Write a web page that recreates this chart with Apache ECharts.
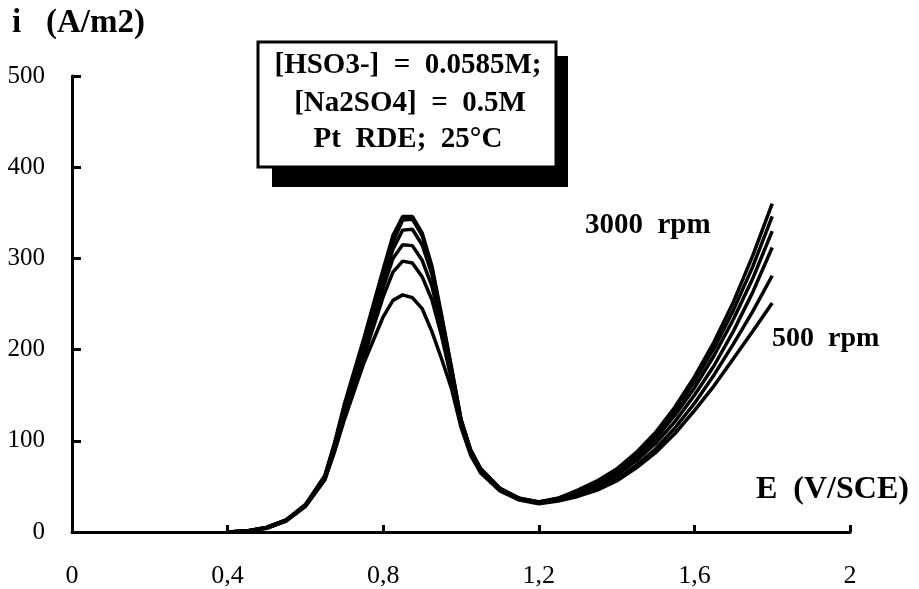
<!DOCTYPE html>
<html>
<head>
<meta charset="utf-8">
<script src="https://cdn.jsdelivr.net/npm/echarts@6/dist/echarts.min.js"></script>
<style>
html,body{margin:0;padding:0;background:#fff;}
#chart{width:919px;height:589px;}
</style>
</head>
<body>
<div id="chart"></div>
<script>
// Potential E (V/SCE)
var potentials = [0.40,0.45,0.50,0.55,0.60,0.65,0.675,0.70,0.75,0.80,0.825,0.85,0.875,0.90,0.925,0.95,0.975,1.00,1.025,1.05,1.10,1.15,1.20,1.25,1.30,1.35,1.40,1.45,1.50,1.55,1.60,1.65,1.70,1.75,1.80];
// Current density i (A/m2) per rotation speed
var rpm3000 = [0,1,5,13,30,62,98,140,212,288,325,346,346,328,292,238,182,124,90,70,48,37,33,37,46,56,69,87,109,137,170,208,252,303,360];
var rpm2500 = [0,1,5,13,30,61,96,137,208,283,318,342,343,325,290,236,180,123,89,69,48,37,33,37,45,55,67,85,106,133,165,201,243,291,346];
var rpm2000 = [0,1,5,13,29,60,94,134,203,276,310,331,332,315,283,232,178,122,88,68,47,36,33,36,44,53,65,82,102,128,158,193,233,278,330];
var rpm1500 = [0,1,5,13,29,59,92,131,198,268,300,315,314,298,270,225,174,120,87,67,46,36,32,35,42,51,62,78,97,121,150,182,220,263,312];
var rpm1000 = [0,1,4,12,28,58,90,127,192,258,285,297,295,280,255,215,168,118,86,66,46,36,32,35,41,49,58,73,91,114,141,172,206,242,281];
var rpm500  = [0,1,4,12,28,57,88,123,185,236,254,260,257,245,220,190,158,115,84,65,45,35,31,34,39,46,56,70,87,108,133,160,190,220,251];
var seriesNames = ['500 rpm','1000 rpm','1500 rpm','2000 rpm','2500 rpm','3000 rpm'];
var seriesValues = [rpm500, rpm1000, rpm1500, rpm2000, rpm2500, rpm3000];
var xTicks = [0, 0.4, 0.8, 1.2, 1.6, 2];
var yTicks = [0, 100, 200, 300, 400, 500];
var boxLines = ['[HSO3-]  =  0.0585M;', '[Na2SO4]  =  0.5M', 'Pt  RDE;  25°C'];

var chart = echarts.init(document.getElementById('chart'), null, {renderer: 'canvas'});
var serif = '"Liberation Serif", "DejaVu Serif", serif';

function pairs(vals) {
  return potentials.map(function (e, i) { return [e, vals[i]]; });
}

var series = seriesValues.map(function (vals, k) {
  return {
    name: seriesNames[k],
    type: 'line',
    data: pairs(vals),
    showSymbol: false,
    symbol: 'none',
    smooth: false,
    lineStyle: {color: '#000', width: 3.5},
    z: 3
  };
});

var option = {
  animation: false,
  backgroundColor: '#fff',
  grid: {left: 72, right: 69, top: 76, bottom: 55, containLabel: false},
  xAxis: {
    type: 'value', min: xTicks[0], max: xTicks[xTicks.length - 1], interval: 0.4,
    splitLine: {show: false},
    axisLine: {lineStyle: {color: '#000', width: 3}},
    axisTick: {inside: true, length: 7, lineStyle: {color: '#000', width: 3}},
    axisLabel: {
      margin: 31, color: '#000', fontFamily: serif, fontSize: 26,
      formatter: function (v) { return String(Number(v.toFixed(2))).replace('.', ','); }
    }
  },
  yAxis: {
    type: 'value', min: yTicks[0], max: yTicks[yTicks.length - 1], interval: 100,
    splitLine: {show: false},
    axisLine: {lineStyle: {color: '#000', width: 3}},
    axisTick: {inside: true, length: 9, lineStyle: {color: '#000', width: 3}},
    axisLabel: {margin: 27, color: '#000', fontFamily: serif, fontSize: 25}
  },
  series: series,
  graphic: [
    {type: 'text', left: 12, top: 7, style: {text: 'i   (A/m2)', font: 'bold 33px ' + serif, fill: '#000'}},
    {type: 'text', left: 756, top: 474, style: {text: 'E  (V/SCE)', font: 'bold 32px ' + serif, fill: '#000'}},
    {type: 'text', left: 585, top: 211, style: {text: '3000  rpm', font: 'bold 29px ' + serif, fill: '#000'}},
    {type: 'text', left: 772, top: 325, style: {text: '500  rpm', font: 'bold 28px ' + serif, fill: '#000'}},
    {type: 'rect', shape: {x: 272, y: 56, width: 296, height: 131}, style: {fill: '#000'}, z: 10},
    {type: 'rect', shape: {x: 258, y: 42, width: 298, height: 125}, style: {fill: '#fff', stroke: '#000', lineWidth: 3}, z: 11},
    {type: 'text', x: 408, y: 66, z: 12, style: {text: boxLines[0], font: 'bold 29px ' + serif, fill: '#000', align: 'center', verticalAlign: 'middle'}},
    {type: 'text', x: 410, y: 104, z: 12, style: {text: boxLines[1], font: 'bold 29px ' + serif, fill: '#000', align: 'center', verticalAlign: 'middle'}},
    {type: 'text', x: 408, y: 140, z: 12, style: {text: boxLines[2], font: 'bold 29px ' + serif, fill: '#000', align: 'center', verticalAlign: 'middle'}}
  ]
};
chart.setOption(option);
</script>
</body>
</html>
